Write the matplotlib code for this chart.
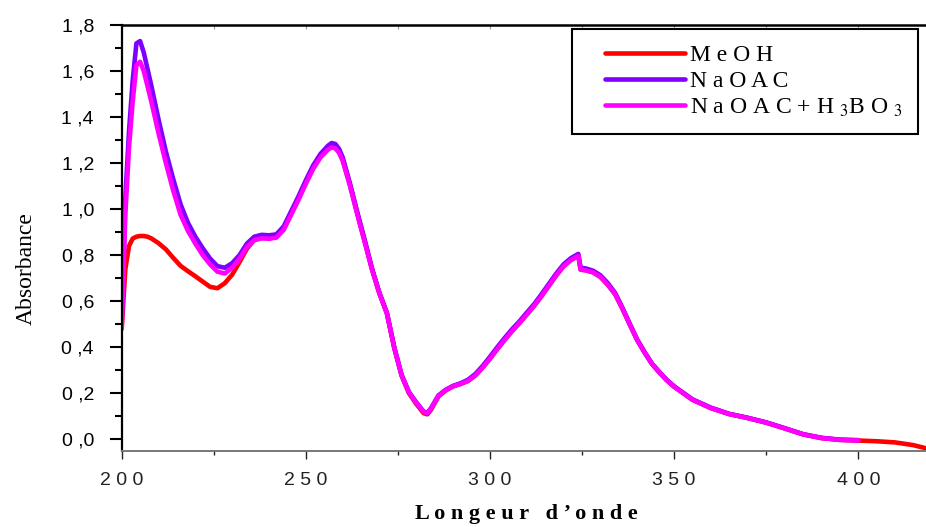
import numpy as np
import matplotlib.pyplot as plt
from matplotlib.ticker import MultipleLocator, FixedLocator
from matplotlib.legend_handler import HandlerLine2D

# wavelength grid (nm) shared by the three spectra
wl = [200, 201, 202, 203, 204, 205, 206, 207, 208, 210, 212, 214, 216, 218, 220,
      222, 224, 226, 228, 230, 232, 234, 236, 238, 240, 242, 244, 246, 248, 250,
      252, 254, 256, 257, 258, 259, 260, 262, 264, 266, 268, 270, 272, 274, 276,
      278, 280, 282, 283, 284, 286, 288, 290, 292, 294, 296, 298, 300, 302, 304,
      306, 308, 310, 312, 314, 316, 318, 320, 322, 324, 324.6, 326, 328, 330, 332,
      334, 336, 338, 340, 342, 344, 346, 348, 350, 355, 360, 365, 370, 375, 380,
      385, 390, 395, 400]

meoh = [0.48, 0.74, 0.84, 0.872, 0.88, 0.883, 0.883, 0.88, 0.873, 0.852, 0.825, 0.788, 0.753, 0.73, 0.708,
        0.685, 0.662, 0.656, 0.678, 0.715, 0.77, 0.828, 0.866, 0.875, 0.875, 0.88, 0.915, 0.98, 1.045, 1.115,
        1.18, 1.23, 1.265, 1.277, 1.273, 1.253, 1.217, 1.105, 0.98, 0.86, 0.737, 0.633, 0.548, 0.398, 0.276,
        0.2, 0.153, 0.113, 0.108, 0.128, 0.186, 0.212, 0.23, 0.24, 0.253, 0.277, 0.311, 0.35, 0.392, 0.432,
        0.47, 0.505, 0.542, 0.58, 0.622, 0.667, 0.712, 0.752, 0.779, 0.797, 0.737, 0.734, 0.725, 0.705, 0.671,
        0.63, 0.566, 0.497, 0.43, 0.376, 0.327, 0.29, 0.256, 0.228, 0.171, 0.135, 0.109, 0.092, 0.072, 0.047,
        0.021, 0.005, -0.003, -0.006]
# MeOH spectrum goes on past 400 nm
wl_tail = [405, 410, 415, 420]
meoh_tail = [-0.009, -0.014, -0.026, -0.046]

naoac = [0.50, 1.05, 1.34, 1.56, 1.72, 1.73, 1.68, 1.61, 1.54, 1.39, 1.25, 1.13, 1.02, 0.94, 0.88,
         0.83, 0.785, 0.752, 0.745, 0.765, 0.80, 0.85, 0.88, 0.888, 0.886, 0.89, 0.925, 0.99, 1.055, 1.125,
         1.19, 1.24, 1.275, 1.287, 1.283, 1.262, 1.225, 1.11, 0.985, 0.865, 0.74, 0.635, 0.55, 0.40, 0.28,
         0.205, 0.16, 0.12, 0.115, 0.135, 0.19, 0.215, 0.232, 0.243, 0.258, 0.283, 0.318, 0.358, 0.40, 0.44,
         0.478, 0.512, 0.55, 0.587, 0.63, 0.675, 0.72, 0.76, 0.787, 0.805, 0.745, 0.742, 0.732, 0.712, 0.678,
         0.635, 0.57, 0.50, 0.432, 0.378, 0.328, 0.292, 0.258, 0.23, 0.173, 0.137, 0.11, 0.093, 0.073, 0.048,
         0.022, 0.006, -0.002, -0.004]

naoac_borate = [0.48, 0.98, 1.27, 1.47, 1.625, 1.64, 1.60, 1.535, 1.47, 1.33, 1.20, 1.08, 0.975, 0.905, 0.85,
                0.80, 0.76, 0.728, 0.72, 0.745, 0.785, 0.835, 0.865, 0.873, 0.871, 0.876, 0.91, 0.975, 1.04, 1.11,
                1.175, 1.225, 1.258, 1.268, 1.264, 1.245, 1.21, 1.10, 0.975, 0.855, 0.735, 0.632, 0.548, 0.398, 0.278,
                0.203, 0.158, 0.118, 0.113, 0.133, 0.188, 0.213, 0.23, 0.24, 0.253, 0.277, 0.311, 0.35, 0.392, 0.432,
                0.47, 0.505, 0.542, 0.58, 0.622, 0.667, 0.712, 0.752, 0.779, 0.797, 0.737, 0.734, 0.725, 0.705, 0.671,
                0.63, 0.566, 0.497, 0.43, 0.376, 0.327, 0.29, 0.256, 0.228, 0.171, 0.135, 0.109, 0.092, 0.072, 0.047,
                0.021, 0.005, -0.003, -0.005]

names = ['M e O H', 'N a O A C', r'N a O A C + H $_{3}$B O $_{3}$']
colors = ['#ff0000', '#7f00ff', '#ff00ff']

yticks = [0.0, 0.2, 0.4, 0.6, 0.8, 1.0, 1.2, 1.4, 1.6, 1.8]
ytick_labels = ['0 ,0', '0 ,2', '0 ,4', '0 ,6', '0 ,8', '1 ,0', '1 ,2', '1 ,4', '1 ,6', '1 ,8']
xticks = [200, 250, 300, 350, 400]
xtick_labels = ['2 0 0', '2 5 0', '3 0 0', '3 5 0', '4 0 0']

plt.rcParams['mathtext.fontset'] = 'stix'

fig = plt.figure(figsize=(9.26, 5.27), dpi=100)
ax = fig.add_axes([0.1314, 0.1448, 0.875, 0.8078])

ax.plot(wl + wl_tail, meoh + meoh_tail, color=colors[0], lw=3.3, label=names[0], solid_capstyle='round')
ax.plot(wl, naoac, color=colors[1], lw=3.3, label=names[1], solid_capstyle='round')
ax.plot(wl, naoac_borate, color=colors[2], lw=3.3, label=names[2], solid_capstyle='round')

ax.set_xlim(200, 420)
ax.set_ylim(-0.05, 1.8)

ax.set_xticks(xticks)
ax.set_xticklabels(xtick_labels, family='Liberation Sans', fontsize=14)
ax.xaxis.set_minor_locator(MultipleLocator(25))
ax.set_yticks(yticks)
ax.set_yticklabels(ytick_labels, family='Liberation Sans', fontsize=14)
ax.yaxis.set_minor_locator(MultipleLocator(0.1))

ax.tick_params(axis='x', which='major', direction='out', length=6, width=1, pad=9, colors='#222222')
ax.tick_params(axis='x', which='minor', direction='out', length=3, width=1, color='#222222')
ax.tick_params(axis='y', which='major', direction='out', length=9, width=1.5, pad=11)
ax.tick_params(axis='y', which='minor', direction='out', length=5, width=1.5)

ax.spines['right'].set_visible(False)
ax.spines['left'].set_linewidth(1.6)
ax.spines['top'].set_linewidth(1.8)
ax.spines['bottom'].set_linewidth(1.4)
ax.spines['bottom'].set_color('#777777')

# small inner ticks along the top edge
top = ax.secondary_xaxis('top')
top.xaxis.set_major_locator(FixedLocator(xticks))
top.xaxis.set_minor_locator(MultipleLocator(25))
top.tick_params(which='both', direction='in', length=3, width=0.8, color='#999999', labeltop=False)
top.spines['top'].set_visible(False)

ax.set_ylabel('Absorbance', family='Liberation Serif', fontsize=17)
ax.yaxis.set_label_coords(-0.105, 0.427)
ax.set_xlabel('L o n g e u r   d ’ o n d e', family='Liberation Serif', fontweight='bold', fontsize=16)
ax.xaxis.set_label_coords(0.5, -0.125)

leg = ax.legend(loc='upper right', bbox_to_anchor=(918 / 926, 1 - 29.3 / 527), bbox_transform=fig.transFigure,
                borderaxespad=0, frameon=True, fancybox=False, edgecolor='black', framealpha=1,
                prop={'family': 'Liberation Serif', 'size': 17}, handlelength=4.12, handletextpad=0.2,
                labelspacing=0.18, borderpad=0.65,
                handler_map={plt.Line2D: HandlerLine2D(xpad=0.75)})
leg.get_frame().set_linewidth(1.5)

fig.savefig('out.png', dpi=100)
